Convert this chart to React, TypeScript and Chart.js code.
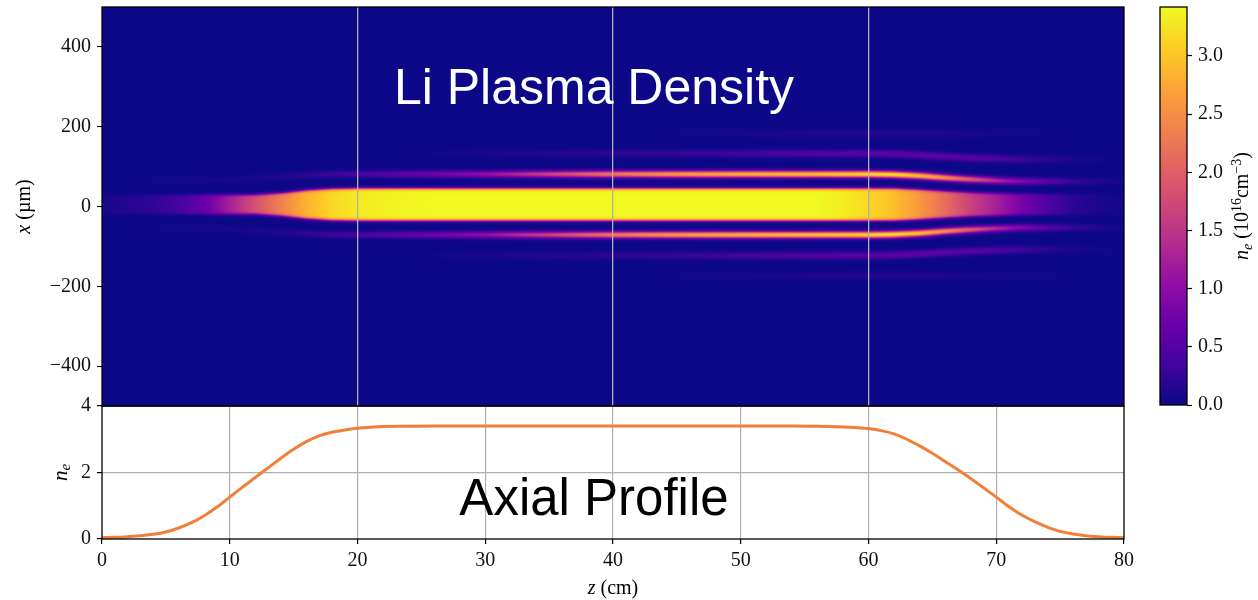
import React, { useEffect, useRef } from 'react';
import { Chart, registerables } from 'chart.js';

Chart.register(...registerables);

// ---------------- Data ----------------
// Axial (on-axis) plasma density profile, n_e [1e16 cm^-3] vs z [cm]
const profileZ = [0,1,2,3,4,5,6,7,8,9,10,11,12,13,14,15,16,17,18,19,20,21,22,24,26,30,40,50,54,56,58,59,60,61,62,63,64,65,66,67,68,69,70,71,72,73,74,75,76,77,78,79,80];
const profileNe = [0.04,0.05,0.07,0.10,0.14,0.21,0.33,0.49,0.70,0.96,1.26,1.56,1.85,2.14,2.43,2.70,2.93,3.10,3.21,3.28,3.33,3.36,3.38,3.39,3.40,3.40,3.40,3.40,3.40,3.39,3.37,3.35,3.32,3.26,3.16,3.00,2.80,2.58,2.33,2.08,1.82,1.54,1.26,0.97,0.72,0.52,0.36,0.23,0.15,0.10,0.07,0.05,0.04];

// 2D density map, described column by column (z in cm), transverse x in µm
const heatZ = [0,2,4,6,8,10,12,14,16,18,20,22,24,26,28,30,32,34,36,38,40,42,44,46,48,50,52,54,56,58,60,62,64,66,68,70,72,74,76,78,80];
const coreDensity = [0.08,0.15,0.22,0.38,0.65,1.25,1.85,2.35,2.85,3.15,3.30,3.36,3.40,3.42,3.42,3.42,3.42,3.42,3.42,3.42,3.42,3.42,3.42,3.42,3.42,3.42,3.42,3.42,3.42,3.33,3.15,2.95,2.60,2.15,1.65,1.25,0.80,0.45,0.20,0.10,0.05];
const coreHalfWidth = [24,24,24,24,24,24,24,28,35,39,40,40,40,40,40,40,40,40,40,40,40,40,40,40,40,40,40,40,40,40,40,40,37,33,30,28,26,26,26,26,26];
const lobeDensity = [0,0,0.02,0.04,0.06,0.08,0.10,0.14,0.22,0.32,0.42,0.52,0.62,0.74,0.88,1.05,1.28,1.52,1.78,2.02,2.25,2.42,2.56,2.68,2.76,2.83,2.88,2.93,2.98,3.06,3.14,3.18,2.95,2.50,1.95,1.35,0.90,0.55,0.30,0.15,0.05];
const lobeOffset = [62,62,62,62,62,62,66,70,73,76,76,76,76,76,76,76,76,76,76,76,76,76,76,76,76,76,76,76,76,76,76,75,72,67,63,60,58,58,58,58,58];
const farDensity = [0,0,0,0,0,0,0,0,0,0,0,0,0,0.03,0.06,0.09,0.12,0.15,0.17,0.19,0.21,0.24,0.26,0.29,0.32,0.36,0.40,0.45,0.50,0.53,0.55,0.57,0.58,0.57,0.53,0.46,0.33,0.20,0.10,0.04,0.01];
const farOffset = [128,128,128,128,128,128,128,128,128,128,128,128,128,128,128,128,128,128,128,128,128,128,128,128,128,128,128,128,128,128,128,127,124,120,117,115,113,113,113,113,113];
const outerDensity = [0,0,0,0,0,0,0,0,0,0,0,0,0,0,0,0,0,0,0,0,0,0,0,0.03,0.05,0.07,0.09,0.11,0.13,0.14,0.15,0.15,0.14,0.12,0.09,0.06,0.04,0.02,0,0,0];
const outerOffset = 178;
const beamCenter = 5;
const vmax = 3.42;

// Ticks
const zTicks = [0,10,20,30,40,50,60,70,80];
const topGridZ = [20,40,60];
const xTicks = [400,200,0,-200,-400];
const neTicks = [0,2,4];
const cbarTicks = [0,0.5,1.0,1.5,2.0,2.5,3.0];

// ---------------- Styles ----------------
const SERIF = '"Liberation Serif", "DejaVu Serif", serif';
const SANS = '"Liberation Sans", Arial, sans-serif';
const GRID = '#b0b0b0';
const LINE = '#f07f3a';
const PLASMA = [
  [13,8,135],[65,4,157],[106,0,168],[143,13,164],[177,42,144],[204,71,120],
  [225,100,98],[242,132,75],[252,166,54],[252,206,37],[240,249,33],
];

function plasmaRGB(f: number): number[] {
  const c = Math.max(0, Math.min(1, f)) * 10;
  const i = Math.min(9, Math.floor(c));
  const t = c - i;
  const a = PLASMA[i], b = PLASMA[i + 1];
  return [a[0] + (b[0] - a[0]) * t, a[1] + (b[1] - a[1]) * t, a[2] + (b[2] - a[2]) * t];
}

const LUT = (() => {
  const n = 1024;
  const arr = new Uint8ClampedArray(n * 3);
  for (let i = 0; i < n; i++) {
    const c = plasmaRGB(i / (n - 1));
    arr[i * 3] = c[0]; arr[i * 3 + 1] = c[1]; arr[i * 3 + 2] = c[2];
  }
  return arr;
})();

function sampleAt(arr: number[], z: number): number {
  if (z <= heatZ[0]) return arr[0];
  const last = heatZ.length - 1;
  if (z >= heatZ[last]) return arr[last];
  let i = 0;
  while (i < last - 1 && heatZ[i + 1] < z) i++;
  const t = (z - heatZ[i]) / (heatZ[i + 1] - heatZ[i]);
  return arr[i] + (arr[i + 1] - arr[i]) * t;
}

type Part = { t: string; font: string; dy?: number };
function drawParts(ctx: CanvasRenderingContext2D, parts: Part[], cx: number, cy: number, rot: number, color = '#000') {
  ctx.save();
  ctx.translate(cx, cy);
  if (rot) ctx.rotate(rot);
  let total = 0;
  for (const p of parts) { ctx.font = p.font; total += ctx.measureText(p.t).width; }
  let x = -total / 2;
  ctx.textBaseline = 'middle';
  ctx.textAlign = 'left';
  ctx.fillStyle = color;
  for (const p of parts) {
    ctx.font = p.font;
    ctx.fillText(p.t, x, p.dy || 0);
    x += ctx.measureText(p.t).width;
  }
  ctx.restore();
}

const noPad = (s: any) => { s.paddingTop = 0; s.paddingBottom = 0; s.paddingLeft = 0; s.paddingRight = 0; };

const framePlugin = {
  id: 'frame',
  afterDraw(chart: any) {
    const { ctx, chartArea: a } = chart;
    ctx.save();
    ctx.strokeStyle = '#000';
    ctx.lineWidth = 1.3;
    ctx.strokeRect(a.left, a.top, a.right - a.left, a.bottom - a.top);
    ctx.restore();
  },
};

const heatPlugin = {
  id: 'heatmap',
  beforeDatasetsDraw(chart: any) {
    const { ctx, chartArea: a, scales } = chart;
    const xs = scales.x, ys = scales.y;
    const w = Math.round(a.right - a.left), h = Math.round(a.bottom - a.top);
    const off = document.createElement('canvas');
    off.width = w; off.height = h;
    const octx = off.getContext('2d') as CanvasRenderingContext2D;
    const img = octx.createImageData(w, h);
    const data = img.data;
    const rowX = new Float64Array(h);
    for (let j = 0; j < h; j++) rowX[j] = ys.getValueForPixel(a.top + j + 0.5) - beamCenter;
    for (let i = 0; i < w; i++) {
      const z = xs.getValueForPixel(a.left + i + 0.5);
      const core = sampleAt(coreDensity, z);
      const half = sampleAt(coreHalfWidth, z);
      const lobe = sampleAt(lobeDensity, z);
      const lOff = sampleAt(lobeOffset, z);
      const far = sampleAt(farDensity, z);
      const fOff = sampleAt(farOffset, z);
      const outer = sampleAt(outerDensity, z);
      for (let j = 0; j < h; j++) {
        const d = Math.abs(rowX[j]);
        let v = core / (1 + Math.exp((d - half) / 2.2));
        let u = (d - lOff) / 6; v += lobe * Math.exp(-0.5 * u * u);
        u = (d - fOff) / 6.5; v += far * Math.exp(-0.5 * u * u);
        u = (d - outerOffset) / 7; v += outer * Math.exp(-0.5 * u * u);
        let f = v / vmax; if (f > 1) f = 1; if (f < 0) f = 0;
        const li = Math.round(f * 1023) * 3;
        const k = (j * w + i) * 4;
        data[k] = LUT[li]; data[k + 1] = LUT[li + 1]; data[k + 2] = LUT[li + 2]; data[k + 3] = 255;
      }
    }
    octx.putImageData(img, 0, 0);
    ctx.drawImage(off, a.left, a.top);
  },
};

const topTextPlugin = {
  id: 'topText',
  afterDraw(chart: any) {
    const { ctx, chartArea: a } = chart;
    ctx.save();
    ctx.font = `50px ${SANS}`;
    ctx.fillStyle = '#ffffff';
    ctx.textAlign = 'center';
    ctx.textBaseline = 'alphabetic';
    ctx.fillText('Li Plasma Density', 594, 103.5);
    ctx.restore();
    drawParts(ctx, [
      { t: 'x', font: `italic 20px ${SERIF}` },
      { t: ' (µm)', font: `20px ${SERIF}` },
    ], 25, (a.top + a.bottom) / 2, -Math.PI / 2);
  },
};

const bottomTextPlugin = {
  id: 'bottomText',
  afterDraw(chart: any) {
    const { ctx, chartArea: a } = chart;
    ctx.save();
    ctx.font = `51px ${SANS}`;
    ctx.fillStyle = '#000';
    ctx.textAlign = 'center';
    ctx.textBaseline = 'alphabetic';
    ctx.fillText('Axial Profile', 594, 515);
    ctx.restore();
    drawParts(ctx, [
      { t: 'n', font: `italic 21px ${SERIF}` },
      { t: 'e', font: `italic 15px ${SERIF}`, dy: 5 },
    ], 61, (a.top + a.bottom) / 2, -Math.PI / 2);
    drawParts(ctx, [
      { t: 'z', font: `italic 20px ${SERIF}` },
      { t: ' (cm)', font: `20px ${SERIF}` },
    ], (a.left + a.right) / 2, 589, 0);
  },
};

const cbarPlugin = {
  id: 'cbar',
  beforeDatasetsDraw(chart: any) {
    const { ctx, chartArea: a, scales } = chart;
    const ys = scales.y;
    const y0 = ys.getPixelForValue(0), y1 = ys.getPixelForValue(vmax);
    const g = ctx.createLinearGradient(0, y0, 0, y1);
    PLASMA.forEach((c, i) => g.addColorStop(i / 10, `rgb(${c[0]},${c[1]},${c[2]})`));
    ctx.save();
    ctx.fillStyle = g;
    ctx.fillRect(a.left, a.top, a.right - a.left, a.bottom - a.top);
    ctx.restore();
  },
  afterDraw(chart: any) {
    const { ctx, chartArea: a } = chart;
    drawParts(ctx, [
      { t: 'n', font: `italic 20px ${SERIF}` },
      { t: 'e', font: `italic 14px ${SERIF}`, dy: 5 },
      { t: ' (10', font: `20px ${SERIF}` },
      { t: '16', font: `14px ${SERIF}`, dy: -6 },
      { t: 'cm', font: `20px ${SERIF}` },
      { t: '\u22123', font: `14px ${SERIF}`, dy: -6 },
      { t: ')', font: `20px ${SERIF}` },
    ], 1243, (a.top + a.bottom) / 2, -Math.PI / 2);
  },
};

const minusFmt = (v: number) => (v < 0 ? '\u2212' + Math.abs(v) : String(v));
const tickFont = { family: SERIF, size: 20 };

export default function App() {
  const heatRef = useRef<HTMLCanvasElement>(null);
  const profRef = useRef<HTMLCanvasElement>(null);
  const cbarRef = useRef<HTMLCanvasElement>(null);

  useEffect(() => {
    const charts: Chart[] = [];

    charts.push(new Chart(heatRef.current as HTMLCanvasElement, {
      type: 'scatter',
      data: { datasets: [] },
      options: {
        responsive: false,
        animation: false,
        events: [],
        layout: { padding: { left: 0, top: 7, right: 134, bottom: 194 }, autoPadding: false },
        plugins: { legend: { display: false }, tooltip: { enabled: false } },
        scales: {
          x: {
            type: 'linear', min: 0, max: 80,
            afterBuildTicks: (s: any) => { s.ticks = topGridZ.map((v) => ({ value: v })); },
            ticks: { display: false },
            grid: { color: GRID, lineWidth: 1.3, drawTicks: false, z: 1 },
            border: { display: false },
            afterFit: (s: any) => { s.height = 0; noPad(s); },
          },
          y: {
            type: 'linear', min: -500, max: 500,
            afterBuildTicks: (s: any) => { s.ticks = xTicks.map((v) => ({ value: v })); },
            ticks: { font: tickFont, color: '#111', padding: 6, callback: (v: any) => minusFmt(Number(v)) },
            grid: { drawOnChartArea: false, tickLength: 5, color: '#000', tickColor: '#000', tickWidth: 1.2 },
            border: { display: false },
            afterFit: (s: any) => { s.width = 102; noPad(s); },
          },
        },
      } as any,
      plugins: [heatPlugin, framePlugin, topTextPlugin],
    }));

    charts.push(new Chart(profRef.current as HTMLCanvasElement, {
      type: 'line',
      data: {
        datasets: [{
          data: profileZ.map((z, i) => ({ x: z, y: profileNe[i] })),
          borderColor: LINE,
          borderWidth: 3,
          pointRadius: 0,
          fill: false,
          cubicInterpolationMode: 'monotone',
        }],
      },
      options: {
        responsive: false,
        animation: false,
        events: [],
        layout: { padding: { left: 0, top: 406, right: 134, bottom: 21 }, autoPadding: false },
        plugins: { legend: { display: false }, tooltip: { enabled: false } },
        scales: {
          x: {
            type: 'linear', min: 0, max: 80,
            afterBuildTicks: (s: any) => { s.ticks = zTicks.map((v) => ({ value: v })); },
            ticks: { font: tickFont, color: '#111', padding: 5, maxRotation: 0 },
            grid: {
              color: (c: any) => (c.tick && (c.tick.value === 0 || c.tick.value === 80) ? 'rgba(0,0,0,0)' : GRID),
              lineWidth: 1.2, tickLength: 5, tickColor: '#000', tickWidth: 1.2,
            },
            border: { display: false },
            afterFit: (s: any) => { s.height = 40; noPad(s); },
          },
          y: {
            type: 'linear', min: 0, max: 4,
            afterBuildTicks: (s: any) => { s.ticks = neTicks.map((v) => ({ value: v })); },
            ticks: { font: tickFont, color: '#111', padding: 6 },
            grid: {
              color: (c: any) => (c.tick && c.tick.value === 2 ? GRID : 'rgba(0,0,0,0)'),
              lineWidth: 1.2, tickLength: 5, tickColor: '#000', tickWidth: 1.2,
            },
            border: { display: false },
            afterFit: (s: any) => { s.width = 102; noPad(s); },
          },
        },
      } as any,
      plugins: [framePlugin, bottomTextPlugin],
    }));

    charts.push(new Chart(cbarRef.current as HTMLCanvasElement, {
      type: 'scatter',
      data: { datasets: [] },
      options: {
        responsive: false,
        animation: false,
        events: [],
        layout: { padding: { left: 1160, top: 7, right: 11, bottom: 195 }, autoPadding: false },
        plugins: { legend: { display: false }, tooltip: { enabled: false } },
        scales: {
          x: { type: 'linear', display: false, min: 0, max: 1 },
          y: {
            type: 'linear', position: 'right', min: 0, max: vmax,
            afterBuildTicks: (s: any) => { s.ticks = cbarTicks.map((v) => ({ value: v })); },
            ticks: { font: tickFont, color: '#111', padding: 6, callback: (v: any) => Number(v).toFixed(1) },
            grid: { drawOnChartArea: false, tickLength: 5, color: '#000', tickColor: '#000', tickWidth: 1.2 },
            border: { display: false },
            afterFit: (s: any) => { s.width = 60; noPad(s); },
          },
        },
      } as any,
      plugins: [cbarPlugin, framePlugin],
    }));

    return () => { charts.forEach((c) => c.destroy()); };
  }, []);

  const cs: React.CSSProperties = { position: 'absolute', left: 0, top: 0, width: 1258, height: 600 };
  return (
    <div style={{ position: 'fixed', left: 0, top: 0, width: 1258, height: 600, background: '#ffffff' }}>
      <canvas ref={heatRef} width={1258} height={600} style={cs} />
      <canvas ref={profRef} width={1258} height={600} style={cs} />
      <canvas ref={cbarRef} width={1258} height={600} style={cs} />
    </div>
  );
}
